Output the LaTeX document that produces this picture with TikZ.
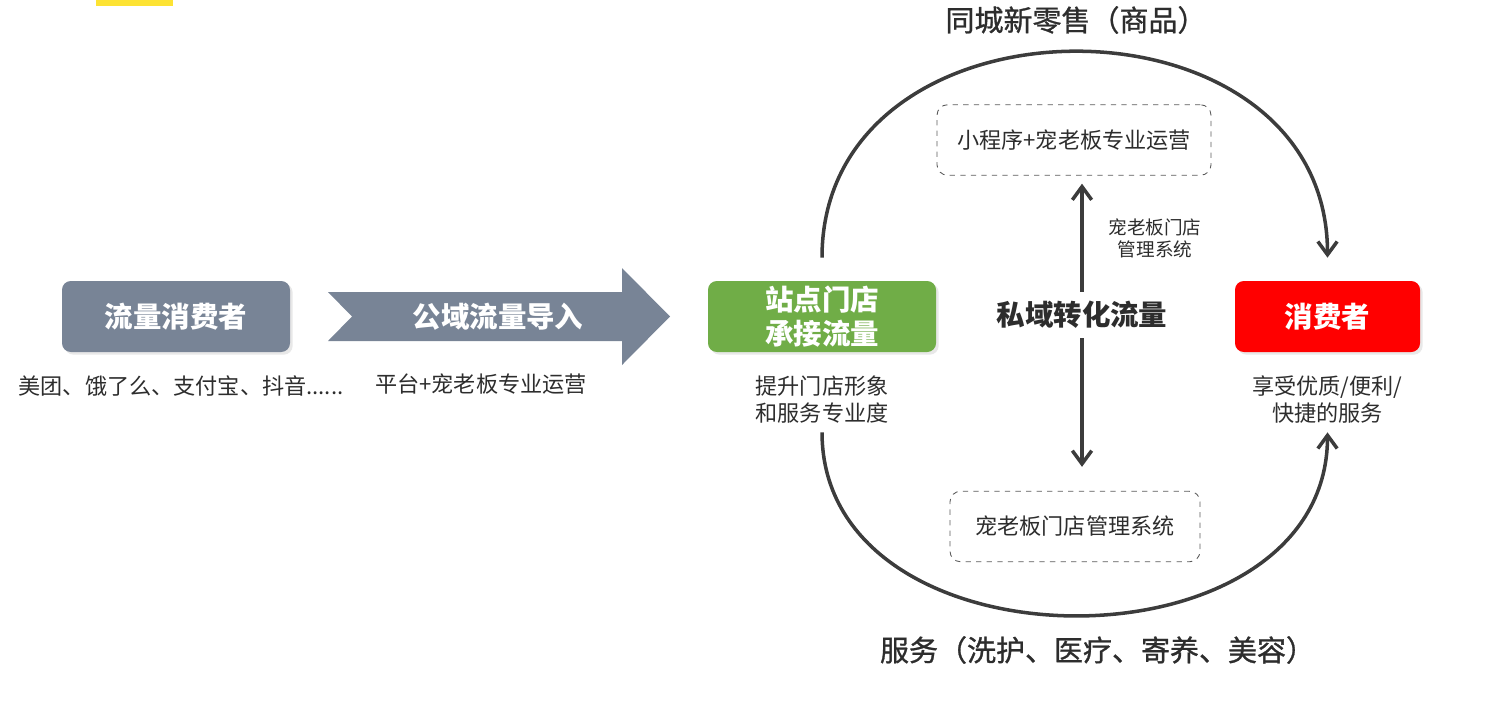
\documentclass[tikz,border=0pt]{standalone}
\usepackage{fontspec}
\setmainfont{Noto Sans CJK SC}
\newfontfamily\medfont{Noto Sans CJK SC}[FakeBold=1]
\usepackage{tikz}
\usetikzlibrary{positioning, arrows.meta, shadows}

\begin{document}
\begin{tikzpicture}[
    flowbox/.style={rounded corners=5pt, minimum height=1.42cm, inner sep=0pt, text=white, align=center,
        font=\fontsize{16.2}{19.8}\selectfont\bfseries,
        drop shadow={shadow xshift=1.5pt, shadow yshift=-1.5pt, opacity=0.18}},
    note/.style={inner sep=0pt, align=center, text=textgray, font=\fontsize{12.6}{15.3}\selectfont},
    dashbox/.style={draw=dashgray, dashed, line width=0.5pt, rounded corners=6pt, minimum height=1.41cm,
        text=textgray, font=\fontsize{12.6}{15.3}\selectfont},
    heading/.style={inner sep=0pt, text=textgray, font=\fontsize{16.5}{19}\selectfont\medfont},
    loopline/.style={draw=inkgray, line width=2pt, -{Straight Barb[length=7.5pt, width=11pt, line width=2pt]}}
]

    % Define colors
    \definecolor{slate}{RGB}{120,132,150}
    \definecolor{leafgreen}{RGB}{112,173,71}
    \definecolor{alertred}{RGB}{255,0,0}
    \definecolor{inkgray}{RGB}{60,60,60}
    \definecolor{textgray}{RGB}{45,45,45}
    \definecolor{dashgray}{RGB}{90,90,90}
    \definecolor{markyellow}{RGB}{253,227,51}

    \useasboundingbox (0,0) rectangle (30.14,-14.08);

    % Yellow mark
    \fill[markyellow] (1.92,0) rectangle (3.46,-0.12);

    % Public traffic
    \node[flowbox, fill=slate, minimum width=4.56cm] (src) at (3.52,-6.33) {流量消费者};
    \node[note, below=0.46cm of src, xshift=0.1cm] (srcnote) {美团、饿了么、支付宝、抖音......};

    % Inflow arrow
    \fill[slate] (6.56,-5.84) -- (12.44,-5.84) -- (12.44,-5.36) -- (13.40,-6.33)
        -- (12.44,-7.30) -- (12.44,-6.82) -- (6.56,-6.82) -- (7.04,-6.33) -- cycle;
    \node[inner sep=0pt, text=white, font=\fontsize{16.2}{19.8}\selectfont\bfseries] (inflow) at (9.96,-6.33) {公域流量导入};
    \node[note] (inflownote) at (9.62,-7.68) {平台+宠老板专业运营};

    % Store and customer
    \node[flowbox, fill=leafgreen, minimum width=4.56cm] (store) at (16.44,-6.33) {站点门店\\承接流量};
    \node[note, below=0.46cm of store] (storenote) {提升门店形象\\和服务专业度};
    \node[flowbox, fill=alertred, minimum width=3.70cm] (customer) at (26.55,-6.33) {消费者};
    \node[note, below=0.46cm of customer] (customernote) {享受优质/便利/\\快捷的服务};

    % Private traffic
    \node[inner sep=0pt, text=textgray, font=\fontsize{16.2}{19.8}\selectfont\bfseries] (private) at (21.64,-6.30) {私域转化流量};
    \node[dashbox, minimum width=5.48cm] (minibox) at (21.48,-2.80) {小程序+宠老板专业运营};
    \node[dashbox, minimum width=5.00cm] (sysbox) at (21.50,-10.53) {宠老板门店管理系统};
    \node[inner sep=0pt, align=center, text=textgray, font=\fontsize{10.6}{12.5}\selectfont] (sidenote) at (23.10,-4.76) {宠老板门店\\管理系统};
    \draw[loopline, shorten <=0.18cm, shorten >=0.16cm] (private.north) -- (private.north |- minibox.south);
    \draw[loopline, shorten <=0.18cm, shorten >=0.48cm] (private.south) -- (private.south |- sysbox.north);

    % Loop arcs
    \coordinate[above=0.46cm of store] (goodsA);
    \coordinate[above=0.46cm of customer] (goodsB);
    \coordinate[below=1.6cm of store] (serviceA);
    \coordinate[below=1.6cm of customer] (serviceB);
    \draw[loopline] (goodsA) to[out=90, in=90, distance=5.49cm] (goodsB);
    \draw[loopline] (serviceA) to[out=-90, in=-90, distance=4.88cm] (serviceB);

    % Labels
    \node[heading] (goods) at (21.52,-0.40) {同城新零售（商品）};
    \node[heading] (service) at (21.95,-13.00) {服务（洗护、医疗、寄养、美容）};

\end{tikzpicture}
\end{document}
